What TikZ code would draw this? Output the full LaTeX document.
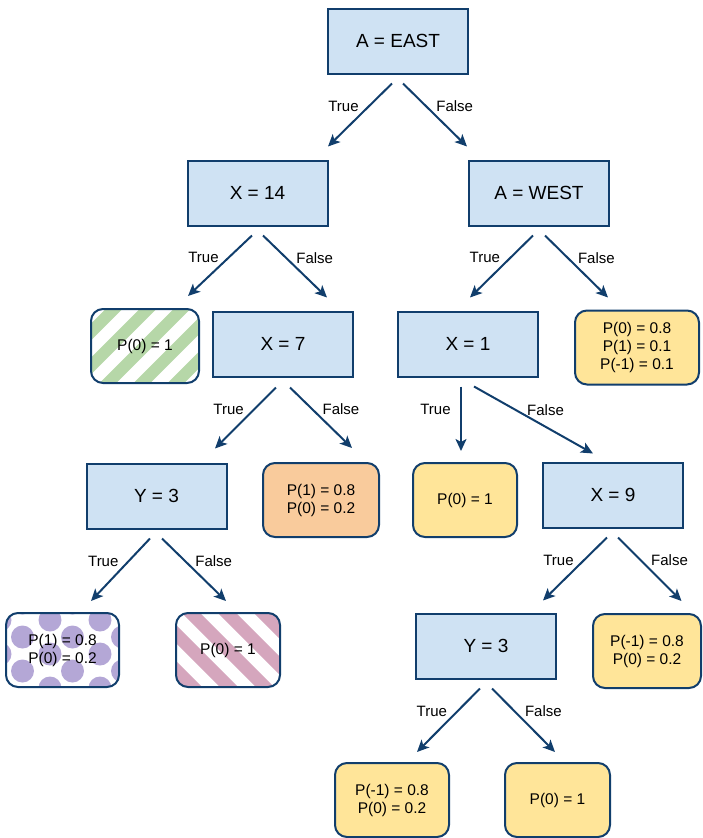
\documentclass[tikz,border=0pt]{standalone}
\usepackage{fontspec}
\setmainfont{Liberation Sans}
\usetikzlibrary{arrows.meta}

\definecolor{boxblue}{HTML}{CFE2F3}
\definecolor{edgeblue}{HTML}{113E6C}
\definecolor{leafyellow}{HTML}{FFE599}
\definecolor{leaforange}{HTML}{F9CB9C}
\definecolor{leafgreen}{HTML}{B6D7A8}
\definecolor{leafpink}{HTML}{D5A6BD}
\definecolor{leafpurple}{HTML}{B4A7D6}

\tikzstyle{decision} = [rectangle, minimum width=140pt, minimum height=65pt, draw=edgeblue, line width=2pt, fill=boxblue, font=\fontsize{19}{22}\selectfont]
\tikzstyle{leaf}     = [rectangle, rounded corners=12pt, minimum height=74pt, draw=edgeblue, line width=2pt, align=center, font=\fontsize{15.5}{18}\selectfont]
\tikzstyle{branch}   = [line width=2pt, draw=edgeblue, -{Stealth[length=12pt,width=11pt,inset=3pt]}]
\tikzstyle{cond}     = [font=\fontsize{15}{18}\selectfont, pos=0.36]
% hatched and dotted leaves
\tikzstyle{stripesup}   = [path picture={\foreach \k in {-6,...,6} \draw[leafgreen, line width=12pt] ([shift={(\k*34pt-60pt,-60pt)}]path picture bounding box.center) -- ++(120pt,120pt);}]
\tikzstyle{stripesdown} = [path picture={\foreach \k in {-6,...,6} \draw[leafpink, line width=13pt] ([shift={(\k*36pt-60pt,60pt)}]path picture bounding box.center) -- ++(120pt,-120pt);}]
\tikzstyle{dots}        = [path picture={\foreach \r in {-1,...,5} {\pgfmathsetmacro\dx{-12.5-27.5*mod(\r+2,2)} \foreach \c in {-1,...,2} \fill[leafpurple] ([shift={(\dx pt+\c*50pt,30pt-\r*17pt)}]path picture bounding box.center) circle (11.5pt);}}]

\begin{document}
\begin{tikzpicture}[node distance=151pt]
    \useasboundingbox (0,0) rectangle (702pt,-838pt);
    \node (aeast) [decision] at (398pt,-41pt)                        {A = EAST};
    \node (x14)   [decision, below of=aeast, xshift=-140.5pt, yshift=-1pt] {X = 14};
    \node (awest) [decision, below of=aeast, xshift=141pt, yshift=-1pt]    {A = WEST};
    \node (leafa) [leaf, stripesup, minimum width=108pt, below of=x14, xshift=-112.5pt, yshift=-2pt] {P(0) = 1};
    \node (x7)    [decision, below of=x14, xshift=25.5pt]               {X = 7};
    \node (x1)    [decision, below of=awest, xshift=-71pt]              {X = 1};
    \node (leafb) [leaf, fill=leafyellow, minimum width=124pt, below of=awest, xshift=98pt, yshift=-3.5pt] {P(0) = 0.8\\P(1) = 0.1\\P(-1) = 0.1};
    \node (y3a)   [decision, below of=x7, xshift=-126.5pt, yshift=-1pt] {Y = 3};
    \node (leafc) [leaf, fill=leaforange, minimum width=116pt, below of=x7, xshift=38pt, yshift=-5pt] {P(1) = 0.8\\P(0) = 0.2};
    \node (leafd) [leaf, fill=leafyellow, minimum width=104pt, below of=x1, xshift=-3pt, yshift=-5pt] {P(0) = 1};
    \node (x9)    [decision, below of=x1, xshift=145pt]                 {X = 9};
    \node (leafe) [leaf, dots, minimum width=113pt, below of=y3a, xshift=-94pt, yshift=-3pt] {P(1) = 0.8\\P(0) = 0.2};
    \node (leaff) [leaf, stripesdown, minimum width=104pt, below of=y3a, xshift=71.5pt, yshift=-3pt] {P(0) = 1};
    \node (y3b)   [decision, below of=x9, xshift=-127pt]                {Y = 3};
    \node (leafg) [leaf, fill=leafyellow, minimum width=108pt, below of=x9, xshift=34pt, yshift=-5pt] {P(-1) = 0.8\\P(0) = 0.2};
    \node (leafh) [leaf, fill=leafyellow, minimum width=114pt, below of=y3b, xshift=-94pt, yshift=-3pt] {P(-1) = 0.8\\P(0) = 0.2};
    \node (leafi) [leaf, fill=leafyellow, minimum width=105pt, below of=y3b, xshift=71.5pt, yshift=-3pt] {P(0) = 1};
    \draw[branch] ([xshift=-6pt,yshift=-9pt]aeast.south) -- node[cond, left=6pt]  {True}  ([xshift=70.5pt,yshift=13pt]x14.north);
    \draw[branch] ([xshift=5pt,yshift=-9pt]aeast.south)  -- node[cond, right=6pt] {False} ([xshift=-72pt,yshift=13pt]awest.north);
    \draw[branch] ([xshift=-5.5pt,yshift=-9pt]x14.south) -- node[cond, left=6pt]  {True}  ([xshift=43pt,yshift=12pt]leafa.north);
    \draw[branch] ([xshift=5.5pt,yshift=-9pt]x14.south)  -- node[cond, right=6pt] {False} ([xshift=44pt,yshift=13pt]x7.north);
    \draw[branch] ([xshift=-6pt,yshift=-9pt]awest.south) -- node[cond, left=6pt]  {True}  ([xshift=2pt,yshift=13pt]x1.north);
    \draw[branch] ([xshift=6pt,yshift=-9pt]awest.south)  -- node[cond, right=6pt] {False} ([xshift=-29pt,yshift=12pt]leafb.north);
    \draw[branch] ([xshift=-7pt,yshift=-10pt]x7.south)   -- node[cond, left=6pt]  {True}  ([xshift=58.5pt,yshift=14pt]y3a.north);
    \draw[branch] ([xshift=7pt,yshift=-10pt]x7.south)    -- node[cond, right=6pt] {False} ([xshift=31pt,yshift=14pt]leafc.north);
    \draw[branch] ([xshift=-7pt,yshift=-9pt]x1.south)    -- node[cond, left=6pt]  {True}  ([xshift=-4pt,yshift=11pt]leafd.north);
    \draw[branch] ([xshift=6pt,yshift=-9pt]x1.south)     -- node[cond, right=6pt] {False} ([xshift=-20pt,yshift=8pt]x9.north);
    \draw[branch] ([xshift=-6.5pt,yshift=-9pt]y3a.south) -- node[cond, left=6pt]  {True}  ([xshift=28.5pt,yshift=11pt]leafe.north);
    \draw[branch] ([xshift=5.5pt,yshift=-9pt]y3a.south)  -- node[cond, right=6pt] {False} ([xshift=-2pt,yshift=11pt]leaff.north);
    \draw[branch] ([xshift=-6pt,yshift=-9pt]x9.south)    -- node[cond, left=6pt]  {True}  ([xshift=57pt,yshift=12pt]y3b.north);
    \draw[branch] ([xshift=5pt,yshift=-9pt]x9.south)     -- node[cond, right=6pt] {False} ([xshift=34.5pt,yshift=12pt]leafg.north);
    \draw[branch] ([xshift=-6pt,yshift=-9pt]y3b.south)   -- node[cond, left=6pt]  {True}  ([xshift=25pt,yshift=10pt]leafh.north);
    \draw[branch] ([xshift=6pt,yshift=-9pt]y3b.south)    -- node[cond, right=6pt] {False} ([xshift=-2.5pt,yshift=10pt]leafi.north);
\end{tikzpicture}
\end{document}
